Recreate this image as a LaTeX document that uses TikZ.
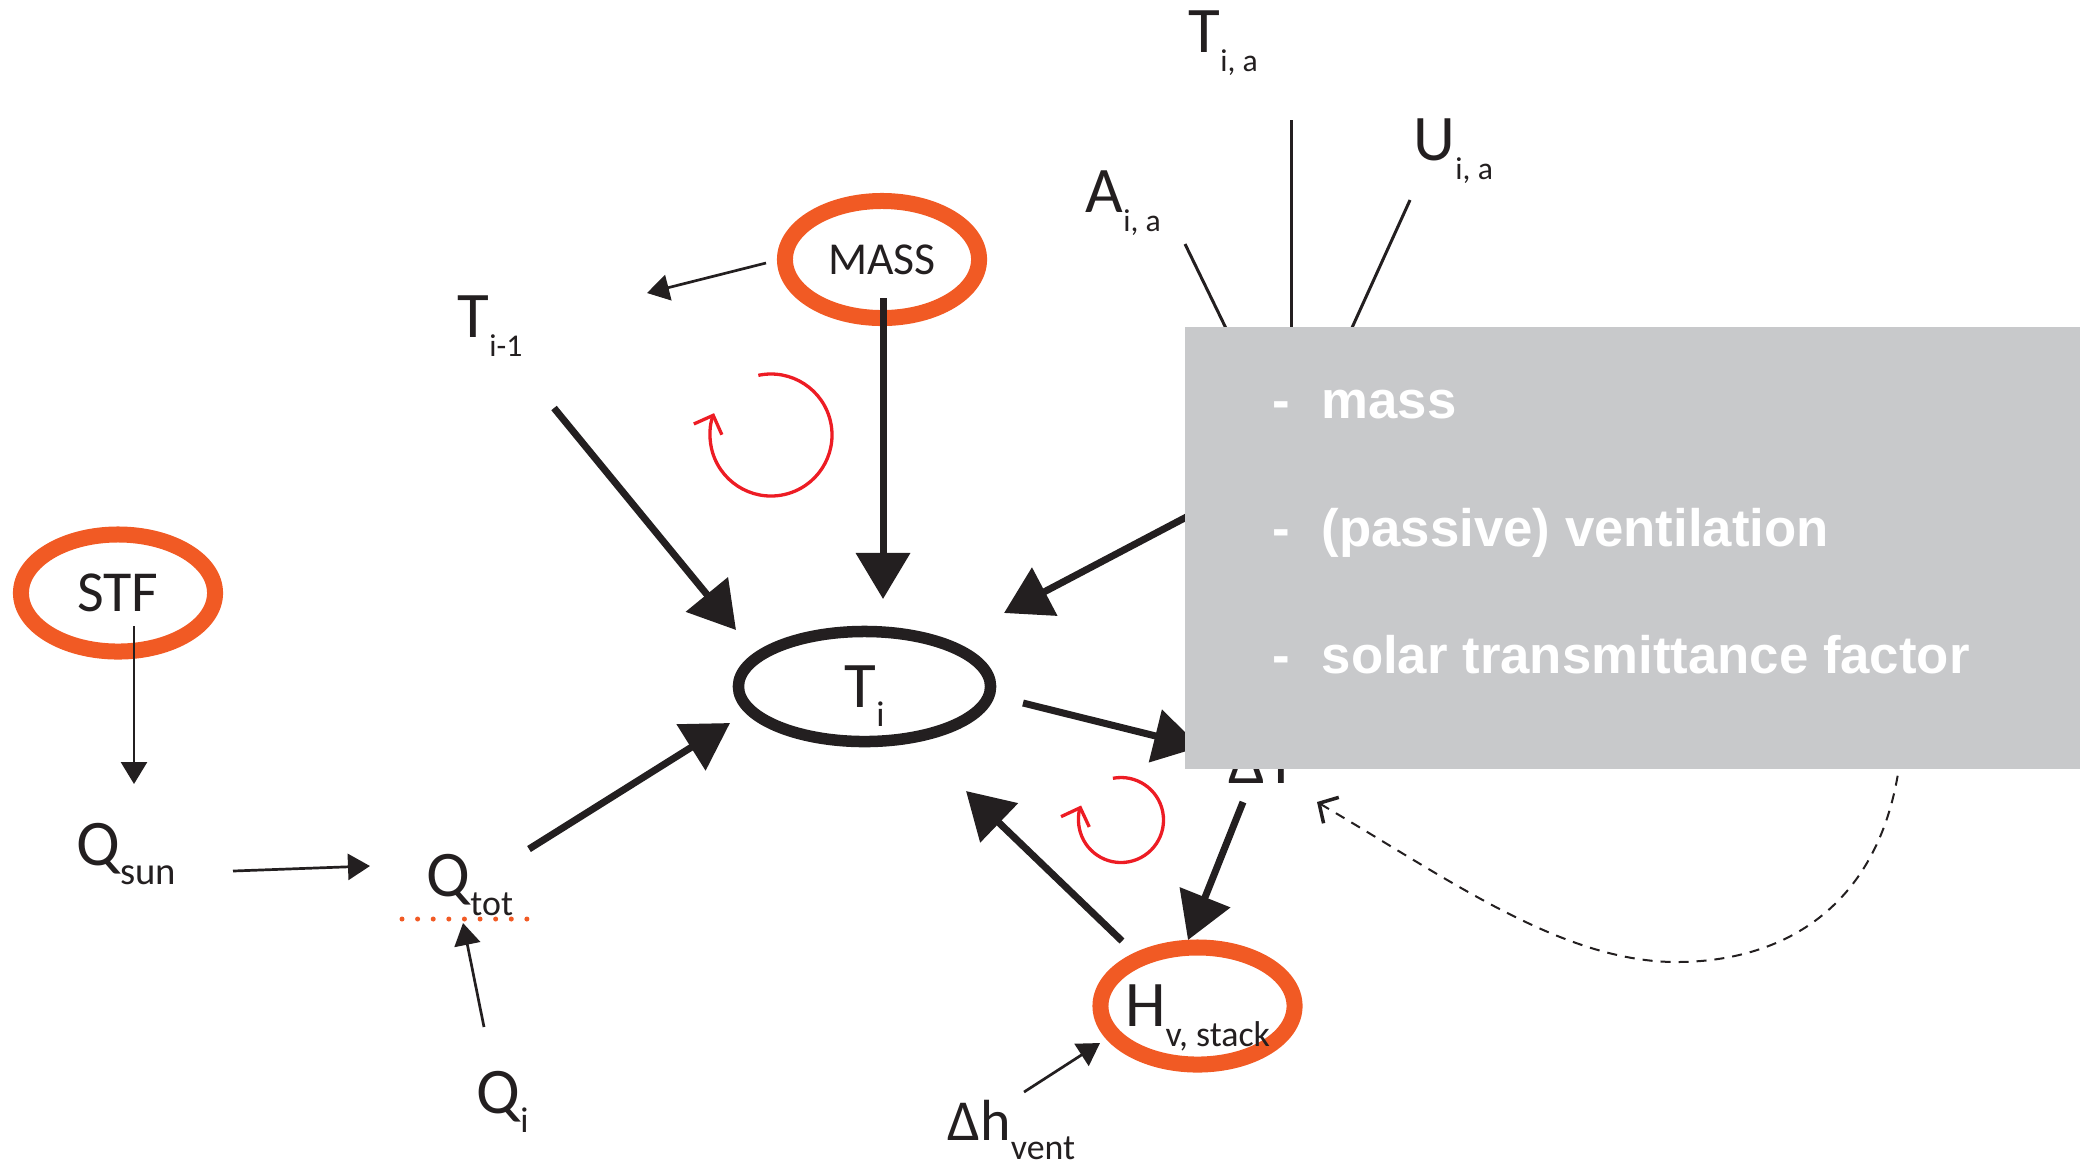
\documentclass[tikz,border=0pt]{standalone}
\usepackage{fontspec}
\setmainfont{Carlito}
\newfontfamily\notefont{Liberation Sans}
\usetikzlibrary{calc, arrows.meta, shapes.geometric}
\definecolor{RingOrange}{HTML}{F15A24}
\definecolor{InkBlack}{HTML}{231F20}
\definecolor{LoopRed}{HTML}{ED1C24}
\definecolor{NoteGray}{HTML}{C8C9CB}
% variable with lowered index
\newcommand{\vq}[3][10.2]{#2\raisebox{-5.5pt}[0pt][0pt]{\fontsize{#1}{#1}\selectfont #3}}

\begin{document}
\begin{tikzpicture}[x=0.01cm, y=-0.01cm,
  ring/.style={
    ellipse, draw=RingOrange, line width=0.16cm,
    minimum width=1.94cm, minimum height=1.17cm, inner sep=0pt, text=InkBlack
  },
  core/.style={
    ellipse, draw=InkBlack, line width=0.115cm,
    minimum width=2.52cm, minimum height=1.1cm, inner sep=0pt, text=InkBlack,
    font=\fontsize{18.5}{22}\selectfont
  },
  lbl/.style={anchor=base west, inner sep=0pt, text=InkBlack, font=\fontsize{18.5}{22}\selectfont},
  smallarr/.style={-{Triangle[length=0.22cm, width=0.26cm]}, InkBlack, line width=0.027cm},
  bigarr/.style={-{Triangle[length=0.46cm, width=0.53cm]}, InkBlack, line width=0.07cm},
  feedline/.style={InkBlack, line width=0.03cm},
  cyclearr/.style={-{Straight Barb[length=0.15cm, width=0.3cm]}, LoopRed, line width=0.033cm},
  backarr/.style={
    -{Straight Barb[length=0.14cm, width=0.3cm, line width=0.035cm]},
    InkBlack, line width=0.02cm, dash pattern=on 0.1cm off 0.08cm
  },
  dotrule/.style={RingOrange, line width=0.05cm, line cap=round, dash pattern=on 0pt off 0.156cm},
  notebox/.style={fill=NoteGray, minimum width=8.96cm, minimum height=4.42cm, inner sep=0pt, anchor=north west},
  noteitem/.style={anchor=base west, inner sep=0pt, text=white, font=\notefont\bfseries\fontsize{15}{18}\selectfont}
]
  \useasboundingbox (0,0) rectangle (2080,1163);

  % Rings and core
  \node[ring, font=\fontsize{13}{15}\selectfont] (mass) at (882,259.5) {MASS};
  \node[ring, font=\fontsize{16.5}{19}\selectfont] (stf) at (118,593) {STF};
  \node[ring, font=\fontsize{18.5}{22}\selectfont] (hv) at (1197.5,1006) {\makebox[0pt]{\vq{H}{v, stack}}};
  \node[core] (Ti) at (864.5,686.5) {\vq{T}{i}};

  % Variables
  \node[lbl] (Tia) at (1188,52) {\vq[9]{T}{i, a}};
  \node[lbl] (Aia) at (1085,212) {\vq[9]{A}{i, a}};
  \node[lbl] (Uia) at (1413,160) {\vq[9]{U}{i, a}};
  \node[lbl] (Tim) at (457,337) {\vq[9]{T}{i-1}};
  \node[lbl] (Qsun) at (76,865) {\vq[11]{Q}{sun}};
  \node[lbl] (Qtot) at (426,896) {\vq{Q}{tot}};
  \node[lbl] (Qi) at (476,1113) {\vq{Q}{i}};
  \node[lbl, font=\fontsize{16.5}{19}\selectfont] (dh) at (947,1140) {\vq{Δh}{vent}};
  \node[lbl] (dT) at (1228,783) {ΔT};
  \coordinate (Qtr) at (1291,462);
  \coordinate (fbstart) at (1902,740);
  \coordinate (dip) at (1673,962);

  % Inputs of the transmission term
  \draw[feedline] ($(Tia.base west)+(103,68)$) -- (Qtr);
  \draw[feedline] ($(Aia.base west)+(100,32)$) -- (Qtr);
  \draw[feedline] ($(Uia.base west)+(-3,40)$) -- (Qtr);

  % Heat balance
  \draw[smallarr] ($(stf)+(16,33)$) -- ($(Qsun.base west)+(58,-81)$);
  \draw[smallarr] ($(Qsun.base west)+(157,6)$) -- ($(Qtot.base west)+(-56,-30)$);
  \draw[smallarr] ($(Qi.base west)+(8,-86)$) -- ($(Qtot.base west)+(37,27)$);
  \draw[smallarr] ($(mass)+(-116,3.5)$) -- ($(Tim.base west)+(190,-44)$);
  \draw[smallarr] ($(dh.base west)+(77,-48)$) -- ($(hv)+(-97.5,37)$);
  \draw[dotrule] ($(Qtot.base west)+(-24,23)$) -- ($(Qtot.base west)+(101,23)$);

  \draw[bigarr] ($(mass)+(1,38.5)$) -- ($(Ti)+(18.5,-87.5)$);
  \draw[bigarr] ($(Tim.base west)+(97,71)$) -- ($(Ti)+(-128.5,-56.5)$);
  \draw[bigarr] ($(Qtot.base west)+(103,-47)$) -- ($(Ti)+(-134.5,36.5)$);
  \draw[bigarr] (Qtr) -- ($(Ti)+(139.5,-73.5)$);
  \draw[bigarr] ($(hv)+(-75.5,-65)$) -- ($(Ti)+(101.5,104.5)$);
  \draw[bigarr] ($(Ti)+(158.5,16.5)$) -- ($(dT.base west)+(-28,-36)$);
  \draw[bigarr] ($(dT.base west)+(15,19)$) -- ($(hv)+(-9.5,-66)$);

  % Loops
  \draw[cyclearr] (771,435) ++(-102:61) arc[start angle=-102, end angle=201, radius=61];
  \draw[cyclearr] (1121,820) ++(-101:42.5) arc[start angle=-101, end angle=200, radius=42.5];

  % Feedback
  \draw[backarr] (fbstart) .. controls +(-12,160) and +(117,1) .. (dip)
    .. controls +(-113,-2) and +(133,78) .. ($(dT.base west)+(89,19)$);

  % Note
  \node[notebox] (note) at (1184,326) {};
  \node[noteitem] (n1) at ($(note.north west)+(88,92)$) {\makebox[0.49cm][l]{-}mass};
  \node[noteitem] (n2) at ($(note.north west)+(88,220)$) {\makebox[0.49cm][l]{-}(passive) ventilation};
  \node[noteitem] (n3) at ($(note.north west)+(88,347)$) {\makebox[0.49cm][l]{-}solar transmittance factor};
\end{tikzpicture}
\end{document}
